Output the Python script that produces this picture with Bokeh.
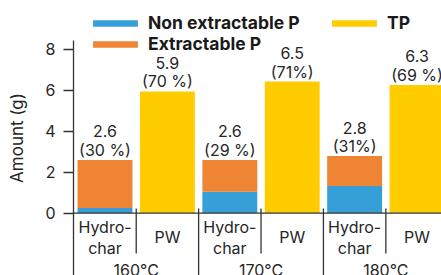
from bokeh.plotting import figure
from bokeh.models import ColumnDataSource, FixedTicker, Span, Legend, LegendItem, LinearAxis
from bokeh.core.properties import value
from bokeh.embed import file_html
from bokeh.resources import INLINE

# ---- data ----
temps = ["160°C", "170°C", "180°C"]
sub_labels = ["Hydro-\nchar", "PW"]
non_extractable = [0.25, 1.04, 1.33]
hydrochar_total = [2.60, 2.60, 2.79]
tp = [5.95, 6.43, 6.27]
hydro_value_text = ["2.6", "2.6", "2.8"]
hydro_pct_text = ["(30 %)", "(29 %)", "(31%)"]
tp_value_text = ["5.9", "6.5", "6.3"]
tp_pct_text = ["(70 %)", "(71%)", "(69 %)"]
y_ticks = [0, 2, 4, 6, 8]

FONT = "Inter"
TEXT = "#262626"
AXIS = "#333333"
BLUE = "#379fd7"
ORANGE = "#ee8434"
YELLOW = "#ffcc00"

n = len(temps)
hx = [2 * i for i in range(n)]
px = [2 * i + 1 for i in range(n)]
extractable = [t - b for t, b in zip(hydrochar_total, non_extractable)]

p = figure(width=441, height=275, x_range=(-0.505, 5.392), y_range=(-3.051, 10.396),
           output_backend="svg", toolbar_location=None,
           min_border_left=73, min_border_right=0, min_border_top=0, min_border_bottom=0)
p.outline_line_color = None
p.grid.visible = False
p.xaxis.visible = False
p.background_fill_color = "white"

ya = p.yaxis[0]
ya.ticker = FixedTicker(ticks=y_ticks)
ya.bounds = (-3.2, 8.44)
ya.major_tick_out = 10
ya.major_tick_in = 0
ya.minor_tick_out = 0
ya.minor_tick_in = 0
ya.axis_line_color = AXIS
ya.axis_line_width = 1.3
ya.major_tick_line_color = AXIS
ya.major_tick_line_width = 1.3
ya.major_label_standoff = 8
ya.major_label_text_font = FONT
ya.major_label_text_font_size = "16px"
ya.major_label_text_color = TEXT

# outer axis that only carries the axis title, centred on the 0-8 span
ax2 = LinearAxis(ticker=FixedTicker(ticks=[]), bounds=(0, 8.38), axis_label="Amount (g)",
                 axis_line_color=None, major_tick_line_color=None, minor_tick_line_color=None,
                 major_label_text_alpha=0, axis_label_text_font=FONT,
                 axis_label_text_font_size="17px", axis_label_text_font_style="normal",
                 axis_label_standoff=16, axis_label_text_color=TEXT)
p.add_layout(ax2, "left")

src_h = ColumnDataSource(dict(x=hx, non=non_extractable, tot=hydrochar_total, ext=extractable,
                              v=hydro_value_text, pc=hydro_pct_text))
src_p = ColumnDataSource(dict(x=px, tp=tp, v=tp_value_text, pc=tp_pct_text))

W = 0.88
r_blue = p.vbar(x="x", width=W, bottom=0, top="non", source=src_h, fill_color=BLUE, line_color=None)
r_orange = p.vbar(x="x", width=W, bottom="non", top="tot", source=src_h, fill_color=ORANGE, line_color=None)
r_yellow = p.vbar(x="x", width=W, bottom=0, top="tp", source=src_p, fill_color=YELLOW, line_color=None)

p.add_layout(Span(location=0, dimension="width", line_color=AXIS, line_width=1.3))

# separators below the axis
inner = [2 * i + 0.5 for i in range(n)]
outer = [2 * i + 1.5 for i in range(n - 1)]
p.segment(x0=inner, y0=[0.22] * len(inner), x1=inner, y1=[-1.98] * len(inner), line_color=AXIS, line_width=1.3)
p.segment(x0=outer, y0=[0.22] * len(outer), x1=outer, y1=[-3.3] * len(outer), line_color=AXIS, line_width=1.3)

tk = dict(text_font=value(FONT), text_font_size="16px", text_color=TEXT, text_align="center", text_baseline="middle")
for src, top in ((src_h, "tot"), (src_p, "tp")):
    p.text(x="x", y=top, text="pc", y_offset=-10, source=src, **tk)
    p.text(x="x", y=top, text="v", y_offset=-28.5, source=src, **tk)

cat_x = [i for i in range(2 * n)]
cat_t = [sub_labels[i % 2] for i in range(2 * n)]
p.text(x=cat_x, y=[-1.19] * len(cat_x), text=cat_t, text_line_height=1.05, **tk)
p.text(x=[2 * i + 0.5 for i in range(n)], y=[-2.76] * n, text=temps, **tk)

leg_kw = dict(glyph_width=56, glyph_height=8, label_standoff=5, padding=0, margin=0, spacing=0,
              border_line_color=None, background_fill_alpha=0, label_text_font=FONT,
              label_text_font_size="17.5px", label_text_font_style="bold", label_text_color="#1a1a1a",
              label_height=20)
leg1 = Legend(items=[LegendItem(label="Non extractable P", renderers=[r_blue]),
                     LegendItem(label="Extractable P", renderers=[r_orange])],
              location=(14, 221), **leg_kw)
leg2 = Legend(items=[LegendItem(label="TP", renderers=[r_yellow])], location=(253, 242), **leg_kw)
p.add_layout(leg1)
p.add_layout(leg2)

open("out.html", "w").write(file_html(p, INLINE))
